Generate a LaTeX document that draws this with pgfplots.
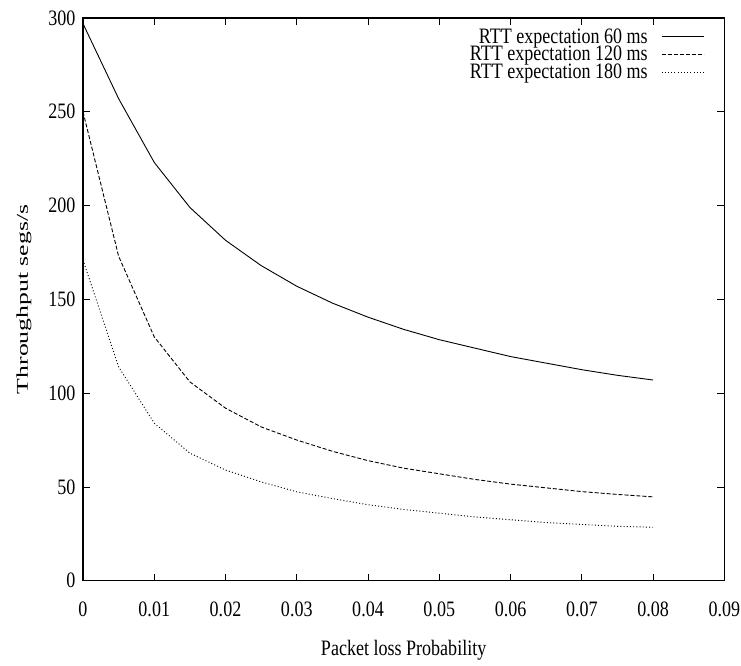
\documentclass[border=0pt]{standalone}
\usepackage{fontspec}
\setmainfont{Liberation Serif}[FakeStretch=0.82]
\newfontfamily\ylabfont{Liberation Serif}
\usepackage{pgfplots}
\pgfplotsset{compat=1.18}
\begin{document}
\begin{tikzpicture}
\useasboundingbox (-83pt,-84.3pt) rectangle (658pt,580.7pt);
\begin{axis}[
  at={(0pt,0pt)}, anchor=south west,
  scale only axis, width=641.3pt, height=562.7pt,
  xmin=0, xmax=0.09, ymin=0, ymax=300,
  xtick={0,0.01,0.02,0.03,0.04,0.05,0.06,0.07,0.08,0.09},
  xticklabels={0,0.01,0.02,0.03,0.04,0.05,0.06,0.07,0.08,0.09},
  ytick={0,50,100,150,200,250,300},
  scaled x ticks=false,
  /pgf/number format/assume math mode=true,
  tick align=inside, major tick length=7pt,
  axis line style={line width=1.1pt},
  tick style={line width=0.8pt, black},
  every tick label/.append style={font=\fontsize{22}{24}\selectfont},
  xticklabel style={yshift=-18pt},
  yticklabel style={xshift=-4pt},
  xlabel={Packet loss Probability},
  xlabel style={at={(axis description cs:0.5,0)}, anchor=north, yshift=-56pt, font=\fontsize{22}{24}\selectfont},
  ylabel={\ylabfont\scalebox{1.17}[0.75]{Throughput segs/s}},
  ylabel style={at={(axis description cs:-0.075,0.5)}, anchor=south, font=\fontsize{22}{24}\selectfont},
  legend plot pos=right,
  legend cell align=right,
  legend style={at={(axis description cs:1,1)}, anchor=north east, xshift=-20pt, yshift=-10pt,
    draw=none, fill=none, inner sep=0pt, row sep=0.5pt, column sep=13pt,
    font=\fontsize{22}{24}\selectfont,
    nodes={inner sep=0.5pt}},
  legend image code/.code={\draw[#1] (0pt,0pt) -- (42pt,0pt);},
]
\addplot[black, line width=0.9pt] coordinates {
(0,297) (0.005,257) (0.01,223) (0.015,199) (0.02,181.5) (0.025,168) (0.03,157)
(0.035,148) (0.04,140.5) (0.045,134) (0.05,128.5) (0.055,124) (0.06,119.5)
(0.065,116) (0.07,112.5) (0.075,109.5) (0.08,107)};
\addlegendentry{RTT expectation 60 ms}
\addplot[black, line width=0.9pt, dash pattern=on 4pt off 2pt] coordinates {
(0,250) (0.005,173) (0.01,130) (0.015,106) (0.02,92) (0.025,82) (0.03,75)
(0.035,69) (0.04,64) (0.045,60) (0.05,57) (0.055,54) (0.06,51.5)
(0.065,49.5) (0.07,47.5) (0.075,46) (0.08,44.7)};
\addlegendentry{RTT expectation 120 ms}
\addplot[black, line width=0.9pt, dash pattern=on 1pt off 2.2pt] coordinates {
(0,171) (0.005,114) (0.01,84) (0.015,68) (0.02,59) (0.025,52.7) (0.03,47.4)
(0.035,43.8) (0.04,40.5) (0.045,38) (0.05,36) (0.055,34) (0.06,32.5)
(0.065,31) (0.07,30) (0.075,29) (0.08,28.5)};
\addlegendentry{RTT expectation 180 ms}
\end{axis}
\end{tikzpicture}
\end{document}
